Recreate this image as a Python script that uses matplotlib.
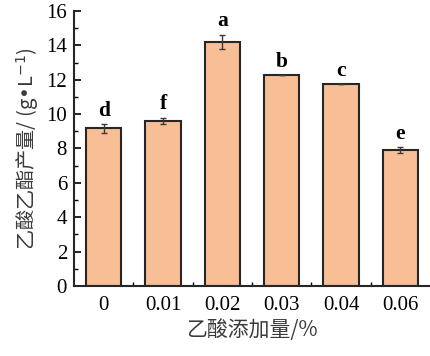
import numpy as np
import matplotlib
matplotlib.use("Agg")
import matplotlib.pyplot as plt
from matplotlib.ticker import MultipleLocator, FixedLocator

# data
doses = ["0", "0.01", "0.02", "0.03", "0.04", "0.06"]
yields = [9.17, 9.6, 14.2, 12.25, 11.75, 7.91]
errors = [0.25, 0.2, 0.42, 0.0, 0.0, 0.15]
letters = ["d", "f", "a", "b", "c", "e"]

serif = ["Liberation Serif", "DejaVu Serif"]
cjk = ["Noto Sans CJK SC", "DejaVu Sans"]

fig = plt.figure(figsize=(4.3, 3.56), dpi=100)
ax = fig.add_axes([74 / 430, 70 / 356, 1 - 74 / 430, 275 / 356])

x = np.arange(len(doses))
ax.bar(x, yields, width=0.6, color="#F8BE95", edgecolor="#262626", linewidth=1.5, zorder=2)
ax.errorbar(x, yields, yerr=errors, fmt="none", ecolor="#3a3a3a", elinewidth=1.0,
            capsize=2.5, capthick=1.0, zorder=3)

for xi, yi, ei, lab in zip(x, yields, errors, letters):
    ax.text(xi, yi + ei + 0.2, lab, ha="center", va="bottom", fontsize=15.5,
            fontweight="bold", family=serif)

ax.set_xlim(-0.5, 5.5)
ax.set_ylim(0, 16)
ax.set_xticks(x)
ax.set_xticklabels(doses, family=serif, fontsize=15)
ax.xaxis.set_minor_locator(FixedLocator(x[:-1] + 0.5))
ax.yaxis.set_major_locator(MultipleLocator(2))
ax.yaxis.set_minor_locator(MultipleLocator(1))
for lab in ax.get_yticklabels():
    lab.set_family(serif)
    lab.set_fontsize(15)

ax.tick_params(which="major", direction="in", length=5, width=1.2, pad=7)
ax.tick_params(which="minor", direction="in", length=3, width=1.0)
ax.tick_params(axis="y", which="major", pad=5)

for side in ["top", "right"]:
    ax.spines[side].set_visible(False)
for side in ["left", "bottom"]:
    ax.spines[side].set_linewidth(1.5)
    ax.spines[side].set_color("#262626")

ax.set_ylabel("乙酸乙酯产量/ (g•L$^{-1}$)", family=cjk, fontsize=14.5, color="#3a3a3a", labelpad=4)
ax.set_xlabel("乙酸添加量/%", family=cjk, fontsize=15, color="#3a3a3a", labelpad=3)

fig.savefig("out.png", dpi=100)
